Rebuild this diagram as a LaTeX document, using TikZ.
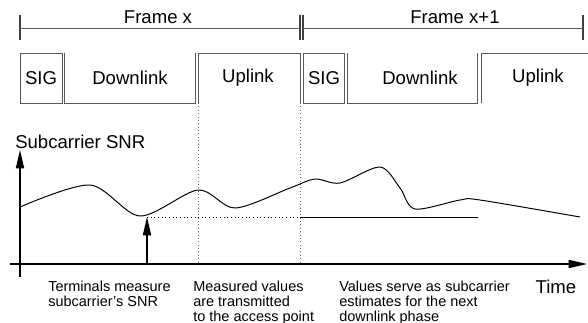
\documentclass[tikz,border=0pt]{standalone}
\usepackage{fontspec}
\setmainfont{Liberation Sans}
\usetikzlibrary{arrows.meta,positioning}

\tikzset{
  big/.style={font=\fontsize{13.2}{16}\selectfont, inner sep=0pt},
  small/.style={font=\fontsize{10.3}{10.4}\selectfont, align=left, inner sep=0pt, anchor=north west},
  slot/.style={draw=black!65, line width=0.5pt},
  tick/.style={draw=black!75, line width=0.8pt},
  axis/.style={line width=0.85pt, -{Triangle[length=13pt, width=5.8pt]}},
}

\begin{document}
\begin{tikzpicture}[x=0.025cm, y=-0.025cm]
    \useasboundingbox (0,0) rectangle (588,323);
    % frame ruler
    \draw [tick] (20,15) -- (20,40);
    \draw [tick] (300,15) -- (300,40);
    \draw [tick] (303,15) -- (303,40);
    \draw [tick] (583,15) -- (583,40);
    \draw [slot] (20,28) -- (300,28);
    \draw [slot] (303,28) -- (583,28);
    \node [big] (framex) at (158,17) {Frame x};
    \node [big] (framey) at (455,17) {Frame x+1};
    % frame x slots
    \draw [slot] (20,53) rectangle (62,103);
    \draw [slot] (64,53) -- (64,103) -- (195,103) -- (195,53);
    \draw [slot] (198,103) -- (198,53) -- (300,53) -- (300,103);
    \node [big] (sigA) at (41,78) {SIG};
    \node [big] (downA) at (130,78) {Downlink};
    \node [big] (upA) at (248,78) {Uplink};
    % frame x+1 slots
    \draw [slot] (303,53) rectangle (344,103);
    \draw [slot] (347,53) -- (347,103) -- (477,103) -- (477,53);
    \draw [slot] (481,103) -- (481,53) -- (588,53);
    \node [big] (sigB) at (324,78) {SIG};
    \node [big] (downB) at (420,78) {Downlink};
    \node [big] (upB) at (538,78) {Uplink};
    % phase borders
    \draw [black!60, dotted] (198,103) -- (198,263);
    \draw [black!60, dotted] (300,103) -- (300,263);
    % axes
    \draw [axis] (20,277) -- (20,150);
    \draw [axis] (10,264) -- (587,264);
    \node [big, anchor=west] (snr) at (15,142) {Subcarrier SNR};
    \node [big] (time) at (556,287) {Time};
    % channel
    \draw [line width=0.7pt] plot [smooth, tension=0.5] coordinates {(20,207) (90,185) (140,216) (198,190) (235,208) (290,188) (315,179) (340,183) (380,167) (400,188) (415,209) (460,200) (480,200) (580,217)};
    \coordinate (meas) at (147,217);
    \draw [axis] (147,264) -- (meas);
    \draw [dotted, line width=0.6pt] (meas) -- (300,217);
    \draw [line width=0.7pt] (300,217) -- (478,217); % estimate
    % notes
    \node [small] (noteA) at (48,281) {Terminals measure\\subcarrier's SNR};
    \node [small] (noteB) at (193,281) {Measured values\\are transmitted\\to the access point};
    \node [small] (noteC) at (339,281) {Values serve as subcarrier\\estimates for the next\\downlink phase};
\end{tikzpicture}
\end{document}
